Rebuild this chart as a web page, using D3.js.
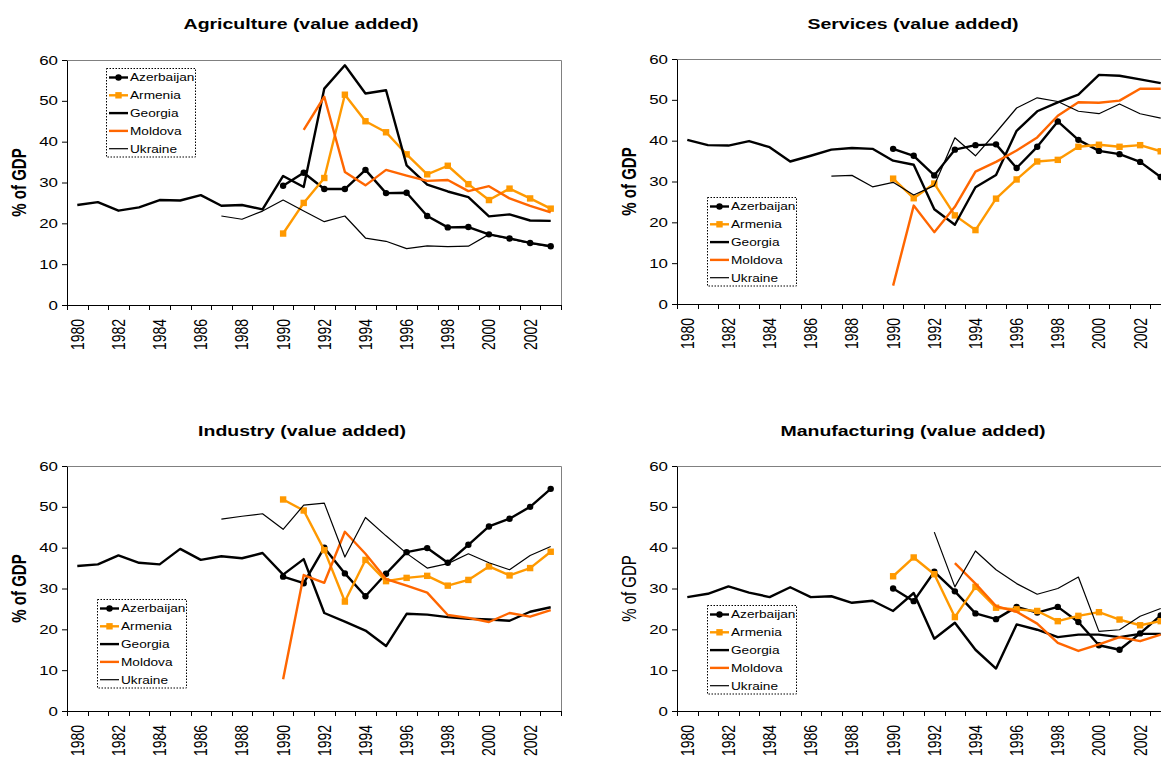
<!DOCTYPE html>
<html>
<head>
<meta charset="utf-8">
<script src="https://cdnjs.cloudflare.com/ajax/libs/d3/7.8.5/d3.min.js"></script>
<style>
  body { margin: 0; background: #fff; }
  svg { display: block; font-family: "Liberation Sans", Arial, sans-serif; }
</style>
</head>
<body>
<svg id="chart" width="1161" height="760"></svg>
<script>
const years = [1980, 1981, 1982, 1983, 1984, 1985, 1986, 1987, 1988, 1989, 1990, 1991,
               1992, 1993, 1994, 1995, 1996, 1997, 1998, 1999, 2000, 2001, 2002, 2003];
const yTicks = [0, 10, 20, 30, 40, 50, 60];
const countries = ['Azerbaijan', 'Armenia', 'Georgia', 'Moldova', 'Ukraine'];

// Agriculture (value added), % of GDP
const agriAzerbaijan = [29.2, 32.4, 28.4, 28.4, 33.1, 27.4, 27.5, 21.8, 19.0, 19.1, 17.3, 16.3, 15.2, 14.4]; // from 1990
const agriArmenia = [17.5, 25.0, 31.1, 51.5, 45.0, 42.3, 36.9, 32.0, 34.1, 29.6, 25.7, 28.5, 26.1, 23.6]; // from 1990
const agriGeorgia = [24.5, 25.2, 23.1, 23.9, 25.7, 25.6, 26.9, 24.3, 24.5, 23.4, 31.6, 28.9, 53.0, 58.7,
                     51.8, 52.6, 34.2, 29.5, 27.8, 26.4, 21.7, 22.2, 20.7, 20.6]; // from 1980
const agriMoldova = [42.9, 51.0, 32.6, 29.3, 33.1, 31.7, 30.4, 30.6, 27.9, 29.1, 26.1, 24.3, 22.7]; // from 1991
const agriUkraine = [21.8, 21.0, 23.0, 25.7, 23.0, 20.4, 21.8, 16.4, 15.6, 13.8, 14.5, 14.3, 14.4,
                     17.3, 16.2, 15.1, 14.3]; // from 1987

// Services (value added)
const servAzerbaijan = [38.0, 36.3, 31.5, 37.8, 38.9, 39.1, 33.3, 38.5, 44.7, 40.2, 37.5, 36.7, 34.8, 31.1];
const servArmenia = [30.7, 25.9, 29.5, 21.7, 18.1, 25.8, 30.5, 34.9, 35.3, 38.5, 39.0, 38.5, 38.9, 37.4];
const servGeorgia = [40.2, 38.9, 38.8, 39.9, 38.4, 34.9, 36.3, 37.8, 38.2, 38.0, 35.1, 34.1, 23.2, 19.4,
                     28.6, 31.6, 42.4, 47.2, 49.4, 51.3, 56.1, 55.9, 55.0, 54.1];
const servMoldova = [4.5, 24.1, 17.6, 23.8, 32.4, 34.8, 37.6, 40.8, 46.1, 49.4, 49.3, 49.8, 52.7, 52.7];
const servUkraine = [31.3, 31.5, 28.7, 29.8, 26.7, 29.0, 40.7, 36.3, 42.0, 48.0, 50.5, 49.6, 47.2,
                     46.6, 49.0, 46.6, 45.5];

// Industry (value added)
const indAzerbaijan = [32.9, 31.3, 40.0, 33.7, 28.1, 33.6, 38.9, 39.9, 36.3, 40.7, 45.2, 47.1, 50.0, 54.4];
const indArmenia = [51.8, 49.1, 39.4, 26.8, 37.0, 31.8, 32.6, 33.1, 30.7, 32.1, 35.4, 33.2, 35.0, 39.0];
const indGeorgia = [35.5, 35.9, 38.1, 36.3, 35.9, 39.7, 37.0, 37.9, 37.4, 38.7, 33.4, 37.2, 24.0, 21.9,
                    19.7, 15.9, 23.8, 23.6, 23.0, 22.6, 22.4, 22.1, 24.3, 25.4];
const indMoldova = [7.8, 33.3, 31.4, 43.9, 38.5, 32.3, 30.7, 29.0, 23.5, 22.8, 21.8, 24.0, 23.1, 24.7];
const indUkraine = [47.0, 47.7, 48.3, 44.5, 50.4, 50.9, 37.7, 47.4, 42.9, 38.6, 35.0, 36.1, 38.5,
                    36.3, 34.6, 38.1, 40.3];

// Manufacturing (value added)
const manAzerbaijan = [30.0, 26.9, 34.1, 29.3, 23.9, 22.5, 25.5, 24.1, 25.5, 21.8, 16.1, 15.0, 19.0, 23.4];
const manArmenia = [33.0, 37.6, 33.5, 23.0, 30.4, 25.3, 24.9, 24.5, 22.0, 23.3, 24.2, 22.4, 21.0, 22.0];
const manGeorgia = [27.9, 28.7, 30.5, 29.0, 27.9, 30.3, 27.9, 28.1, 26.5, 27.0, 24.5, 28.9, 17.7, 21.6,
                    15.0, 10.4, 21.2, 19.9, 18.1, 18.7, 18.7, 18.1, 18.9, 18.9];
const manMoldova = [36.2, 31.2, 25.7, 24.3, 21.4, 16.7, 14.7, 16.3, 18.1, 17.1, 18.7]; // from 1993
const manUkraine = [43.8, 30.4, 39.2, 34.6, 31.2, 28.6, 30.0, 32.8, 19.5, 19.9, 23.2, 25.1]; // from 1992

function pad(start, vals) {
  return years.map(yr => {
    const i = yr - start;
    return i >= 0 && i < vals.length ? vals[i] : null;
  });
}

const styles = {
  Azerbaijan: { color: '#000000', width: 2.4, marker: 'circle' },
  Armenia:    { color: '#FF9900', width: 2.4, marker: 'square' },
  Georgia:    { color: '#000000', width: 2.4, marker: null },
  Moldova:    { color: '#FF6600', width: 2.4, marker: null },
  Ukraine:    { color: '#000000', width: 1.2, marker: null }
};

const panels = [
  { title: 'Agriculture (value added)', left: 67, top: 60, titleX: 301, titleY: 29, legend: [106, 68], bold: true,
    data: { Azerbaijan: pad(1990, agriAzerbaijan), Armenia: pad(1990, agriArmenia), Georgia: pad(1980, agriGeorgia),
            Moldova: pad(1991, agriMoldova), Ukraine: pad(1987, agriUkraine) } },
  { title: 'Services (value added)', left: 677, top: 59, titleX: 913, titleY: 29, legend: [707, 197], bold: true,
    data: { Azerbaijan: pad(1990, servAzerbaijan), Armenia: pad(1990, servArmenia), Georgia: pad(1980, servGeorgia),
            Moldova: pad(1990, servMoldova), Ukraine: pad(1987, servUkraine) } },
  { title: 'Industry (value added)', left: 67, top: 466, titleX: 302, titleY: 436, legend: [97, 599], bold: true,
    data: { Azerbaijan: pad(1990, indAzerbaijan), Armenia: pad(1990, indArmenia), Georgia: pad(1980, indGeorgia),
            Moldova: pad(1990, indMoldova), Ukraine: pad(1987, indUkraine) } },
  { title: 'Manufacturing (value added)', left: 677, top: 466, titleX: 913, titleY: 436, legend: [707, 605], bold: false,
    data: { Azerbaijan: pad(1990, manAzerbaijan), Armenia: pad(1990, manArmenia), Georgia: pad(1980, manGeorgia),
            Moldova: pad(1993, manMoldova), Ukraine: pad(1992, manUkraine) } }
];

const SX = 1.3;   // the source picture is stretched sideways
const W = 494, H = 245;
const svg = d3.select('#chart');

function stretchedText(g, x, y, str, size, weight, anchor, rotate) {
  return g.append('text')
    .attr('transform', `translate(${x},${y}) scale(${SX},1)` + (rotate ? ' rotate(-90)' : ''))
    .attr('dy', rotate ? '0.35em' : null)
    .attr('text-anchor', anchor)
    .attr('font-size', size)
    .attr('font-weight', weight)
    .attr('fill', '#000')
    .text(str);
}

function drawMarker(g, type, cx, cy, color) {
  if (type === 'circle') {
    g.append('circle').attr('cx', cx).attr('cy', cy).attr('r', 3.2).attr('fill', color);
  } else if (type === 'square') {
    g.append('rect').attr('x', cx - 3.2).attr('y', cy - 3.2).attr('width', 6.4).attr('height', 6.4).attr('fill', color);
  }
}

panels.forEach(p => {
  const g = svg.append('g');
  const x = d3.scaleBand().domain(years).range([p.left, p.left + W]);
  const y = d3.scaleLinear().domain([0, 60]).range([p.top + H, p.top]);
  const bw = x.bandwidth();

  // grey frame on top and right
  g.append('path')
    .attr('d', `M${p.left + 0.5},${p.top + 0.5}H${p.left + W + 0.5}V${p.top + H + 0.5}`)
    .attr('fill', 'none').attr('stroke', '#808080').attr('stroke-width', 1);

  // y axis
  const ya = g.append('g')
    .attr('transform', `translate(${p.left},0)`)
    .call(d3.axisLeft(y).tickValues(yTicks).tickSize(5).tickSizeOuter(0))
    .attr('font-family', null).attr('font-size', 13);
  ya.selectAll('text').attr('x', null).attr('transform', `translate(-9,0) scale(${SX},1)`).attr('fill', '#000');
  ya.selectAll('line, path').attr('stroke', '#000');

  // x axis: category ticks between years, labels every second year
  const xa = g.append('g')
    .attr('transform', `translate(0,${p.top + H})`)
    .call(d3.axisBottom(x).tickValues(years.filter(d => d % 2 === 0)).tickSize(0).tickSizeOuter(0))
    .attr('font-family', null).attr('font-size', 14);
  xa.selectAll('path').attr('stroke', '#000');
  xa.selectAll('text')
    .attr('y', null).attr('dy', '0.35em').attr('text-anchor', 'end')
    .attr('transform', `translate(0,14) scale(${SX},1) rotate(-90)`).attr('fill', '#000');
  xa.selectAll('.bound')
    .data(years.map(d => x(d)).concat([x(years[years.length - 1]) + bw]))
    .join('line')
    .attr('class', 'bound')
    .attr('x1', d => Math.round(d) + 0.5).attr('x2', d => Math.round(d) + 0.5)
    .attr('y1', 0).attr('y2', 5)
    .attr('stroke', '#000');

  // series
  const line = d3.line()
    .defined(d => d.v !== null)
    .x(d => x(d.year) + bw / 2)
    .y(d => y(d.v));

  countries.forEach(c => {
    const st = styles[c];
    const pts = years.map((yr, i) => ({ year: yr, v: p.data[c][i] }));
    g.append('path')
      .datum(pts)
      .attr('d', line)
      .attr('fill', 'none')
      .attr('stroke', st.color)
      .attr('stroke-width', st.width)
      .attr('stroke-linejoin', 'round');
    if (st.marker) {
      pts.filter(d => d.v !== null).forEach(d => drawMarker(g, st.marker, x(d.year) + bw / 2, y(d.v), st.color));
    }
  });

  // legend
  const [lx, ly] = p.legend;
  const lg = g.append('g');
  lg.append('rect')
    .attr('x', lx + 0.5).attr('y', ly + 0.5).attr('width', 89).attr('height', 88.5)
    .attr('fill', '#fff').attr('stroke', '#000').attr('stroke-width', 1).attr('stroke-dasharray', '1.5,1.5');
  countries.forEach((c, i) => {
    const st = styles[c];
    const cy = ly + 9.5 + i * 17.8;
    lg.append('line')
      .attr('x1', lx + 3).attr('x2', lx + 22).attr('y1', cy).attr('y2', cy)
      .attr('stroke', st.color).attr('stroke-width', st.width);
    if (st.marker) drawMarker(lg, st.marker, lx + 12.5, cy, st.color);
    stretchedText(lg, lx + 24, cy + 3.8, c, 10.5, 'normal', 'start', false);
  });

  // titles
  stretchedText(g, p.titleX, p.titleY, p.title, 15, 'bold', 'middle', false);
  stretchedText(g, p.left - 48, p.top + H / 2, '% of GDP', 15, p.bold ? 'bold' : 'normal', 'middle', true);
});
</script>
</body>
</html>
